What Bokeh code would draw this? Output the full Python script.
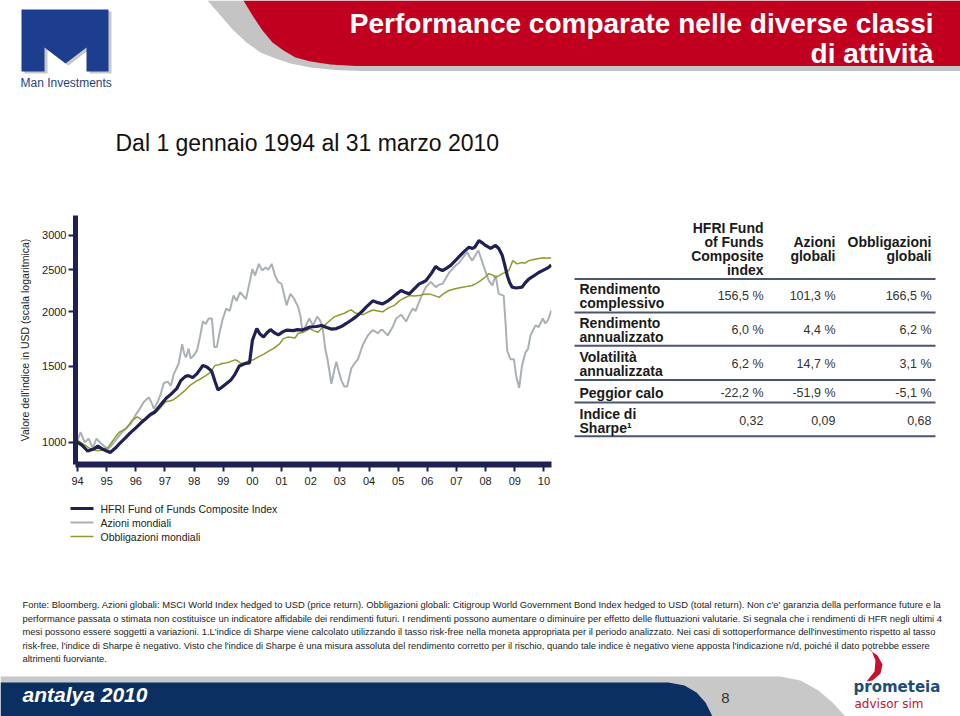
from bokeh.plotting import figure
from bokeh.models import Range1d, FixedTicker, PrintfTickFormatter
from bokeh.layouts import column, row
from bokeh.embed import file_html
from bokeh.resources import INLINE
from bokeh.core.properties import value

# ---------------- data ----------------
hfri_t = [1994.00, 1994.15, 1994.35, 1994.55, 1994.70, 1994.85, 1995.00, 1995.12, 1995.30, 1995.45,
          1995.65, 1995.80, 1996.00, 1996.15, 1996.35, 1996.50, 1996.65, 1996.85, 1997.05, 1997.20,
          1997.40, 1997.55, 1997.70, 1997.80, 1997.95, 1998.10, 1998.30, 1998.45, 1998.60, 1998.72,
          1998.82, 1998.95, 1999.10, 1999.25, 1999.40, 1999.55, 1999.75, 1999.90, 2000.00, 2000.15,
          2000.25, 2000.38, 2000.50, 2000.62, 2000.75, 2000.89, 2001.05, 2001.17, 2001.40, 2001.55,
          2001.70, 2001.85, 2001.97, 2002.20, 2002.37, 2002.55, 2002.70, 2002.88, 2003.05, 2003.22,
          2003.40, 2003.56, 2003.75, 2003.90, 2004.13, 2004.30, 2004.47, 2004.65, 2004.81, 2004.95,
          2005.10, 2005.25, 2005.38, 2005.55, 2005.72, 2005.85, 2005.95, 2006.15, 2006.29, 2006.40,
          2006.52, 2006.65, 2006.80, 2006.95, 2007.09, 2007.25, 2007.43, 2007.55, 2007.63, 2007.77,
          2007.90, 2008.00, 2008.17, 2008.34, 2008.45, 2008.57, 2008.66, 2008.74, 2008.82, 2008.91,
          2009.05, 2009.25, 2009.35, 2009.48, 2009.65, 2009.82, 2009.95, 2010.05, 2010.15, 2010.25]
hfri_v = [1000, 985, 955, 965, 980, 965, 955, 948, 970, 995,
          1025, 1050, 1080, 1105, 1135, 1160, 1175, 1220, 1265, 1290,
          1330, 1390, 1420, 1425, 1410, 1440, 1505, 1490, 1460, 1380,
          1320, 1340, 1365, 1390, 1435, 1500, 1520, 1525, 1720, 1830,
          1780, 1750, 1790, 1820, 1790, 1770, 1800, 1815, 1810, 1820,
          1815, 1830, 1845, 1850, 1860, 1840, 1825, 1830, 1850, 1880,
          1915, 1950, 2000, 2050, 2120, 2100, 2085, 2120, 2160, 2200,
          2240, 2215, 2200, 2260, 2320, 2340, 2360, 2460, 2545, 2510,
          2490, 2520, 2560, 2620, 2680, 2750, 2820, 2800, 2820, 2920,
          2880, 2845, 2800, 2845, 2800, 2700, 2560, 2430, 2340, 2280,
          2270, 2280, 2330, 2380, 2420, 2465, 2490, 2510, 2530, 2565]

stock_t = [1994.00, 1994.10, 1994.25, 1994.38, 1994.52, 1994.65, 1994.80, 1994.95, 1995.05, 1995.20,
           1995.35, 1995.50, 1995.65, 1995.83, 1996.00, 1996.10, 1996.28, 1996.45, 1996.55, 1996.62,
           1996.75, 1996.85, 1996.96, 1997.10, 1997.20, 1997.30, 1997.47, 1997.59, 1997.66, 1997.72,
           1997.81, 1997.88, 1998.00, 1998.10, 1998.20, 1998.30, 1998.40, 1998.50, 1998.61, 1998.69,
           1998.78, 1998.88, 1998.97, 1999.10, 1999.22, 1999.35, 1999.46, 1999.58, 1999.70, 1999.78,
           1999.88, 2000.00, 2000.09, 2000.22, 2000.34, 2000.45, 2000.55, 2000.66, 2000.78, 2000.88,
           2001.00, 2001.08, 2001.17, 2001.30, 2001.42, 2001.57, 2001.65, 2001.72, 2001.85, 2001.95,
           2002.08, 2002.22, 2002.30, 2002.40, 2002.50, 2002.58, 2002.71, 2002.80, 2002.88, 2002.97,
           2003.05, 2003.15, 2003.25, 2003.39, 2003.50, 2003.62, 2003.79, 2003.96, 2004.13, 2004.22,
           2004.30, 2004.40, 2004.47, 2004.64, 2004.81, 2004.93, 2005.10, 2005.27, 2005.40, 2005.50,
           2005.60, 2005.67, 2005.78, 2005.95, 2006.12, 2006.29, 2006.40, 2006.52, 2006.65, 2006.75,
           2006.88, 2006.98, 2007.10, 2007.20, 2007.37, 2007.45, 2007.54, 2007.65, 2007.75, 2007.85,
           2007.94, 2008.05, 2008.11, 2008.23, 2008.34, 2008.45, 2008.62, 2008.68, 2008.74, 2008.85,
           2008.97, 2009.05, 2009.15, 2009.25, 2009.37, 2009.45, 2009.54, 2009.71, 2009.82, 2009.96,
           2010.05, 2010.15, 2010.25]
stock_v = [1010, 1055, 1000, 1020, 970, 1020, 995, 975, 965, 990,
           1020, 1050, 1075, 1105, 1160, 1185, 1240, 1270, 1230, 1195,
           1240, 1290, 1370, 1380, 1350, 1435, 1520, 1685, 1600, 1570,
           1645, 1560, 1590, 1630, 1750, 1900, 1875, 1930, 1930, 1660,
           1660, 1800, 1915, 2035, 2010, 2180, 2120, 2220, 2170, 2140,
           2300, 2510, 2425, 2580, 2490, 2530, 2500, 2580, 2420, 2345,
           2320, 2200, 2070, 2200, 2150, 2050, 1950, 1790, 1870, 1930,
           1860, 1950, 1920, 1860, 1640, 1550, 1365, 1460, 1535, 1450,
           1390, 1345, 1345, 1480, 1520, 1555, 1680, 1765, 1815, 1800,
           1785, 1815, 1815, 1765, 1845, 1930, 1970, 1900, 1980, 2035,
           2010, 2070, 2160, 2280, 2345, 2280, 2310, 2320, 2400, 2465,
           2520, 2560, 2600, 2655, 2745, 2680, 2625, 2700, 2770, 2650,
           2540, 2420, 2360, 2300, 2430, 2200, 2180, 1900, 1630, 1555,
           1555, 1420, 1335, 1505, 1615, 1640, 1765, 1860, 1845, 1930,
           1880, 1920, 2013]

bond_t = [1994.00, 1994.20, 1994.46, 1994.65, 1994.80, 1995.03, 1995.15, 1995.26, 1995.43, 1995.55,
          1995.66, 1995.88, 1996.05, 1996.22, 1996.45, 1996.60, 1996.74, 1997.02, 1997.15, 1997.25,
          1997.40, 1997.53, 1997.70, 1997.87, 1998.05, 1998.21, 1998.40, 1998.55, 1998.72, 1998.85,
          1998.95, 1999.10, 1999.24, 1999.40, 1999.47, 1999.58, 1999.69, 1999.86, 2000.03, 2000.20,
          2000.38, 2000.60, 2000.72, 2000.94, 2001.06, 2001.23, 2001.46, 2001.57, 2001.69, 2001.85,
          2001.97, 2002.10, 2002.25, 2002.40, 2002.54, 2002.70, 2002.82, 2003.00, 2003.16, 2003.30,
          2003.39, 2003.50, 2003.56, 2003.79, 2003.95, 2004.13, 2004.30, 2004.47, 2004.65, 2004.87,
          2005.04, 2005.20, 2005.38, 2005.55, 2005.72, 2005.90, 2006.06, 2006.25, 2006.40, 2006.55,
          2006.74, 2006.95, 2007.20, 2007.40, 2007.54, 2007.70, 2007.83, 2008.00, 2008.11, 2008.25,
          2008.34, 2008.45, 2008.57, 2008.70, 2008.80, 2008.93, 2009.08, 2009.25, 2009.35, 2009.48,
          2009.65, 2009.82, 2010.00, 2010.10, 2010.25]
bond_v = [1010, 990, 965, 958, 958, 970, 995, 1020, 1055, 1065,
          1075, 1125, 1145, 1125, 1145, 1160, 1180, 1240, 1245, 1250,
          1270, 1290, 1320, 1355, 1380, 1400, 1425, 1450, 1505, 1510,
          1520, 1525, 1535, 1550, 1545, 1525, 1520, 1540, 1550, 1575,
          1595, 1630, 1645, 1690, 1735, 1750, 1740, 1785, 1790, 1810,
          1830, 1810, 1795, 1840, 1880, 1920, 1950, 1970, 1985, 2010,
          2020, 1995, 1985, 1970, 1995, 2020, 2010, 2000, 2040, 2070,
          2120, 2150, 2180, 2175, 2180, 2195, 2200, 2180, 2160, 2200,
          2240, 2260, 2280, 2290, 2300, 2330, 2360, 2410, 2450, 2430,
          2400, 2420, 2450, 2470, 2490, 2625, 2580, 2600, 2590, 2625,
          2640, 2655, 2665, 2660, 2665]

series_names = ["HFRI Fund of Funds Composite Index", "Azioni mondiali", "Obbligazioni mondiali"]
year_ticks = list(range(1994, 2011))
year_labels = ["94", "95", "96", "97", "98", "99", "00", "01", "02", "03",
               "04", "05", "06", "07", "08", "09", "10"]
value_ticks = [1000, 1500, 2000, 2500, 3000]

col_headers = [["HFRI Fund", "of Funds", "Composite", "index"],
               ["Azioni", "globali"],
               ["Obbligazioni", "globali"]]
row_labels = [["Rendimento", "complessivo"], ["Rendimento", "annualizzato"],
              ["Volatilità", "annualizzata"], ["Peggior calo"], ["Indice di", "Sharpe¹"]]
hfri_stats = ["156,5 %", "6,0 %", "6,2 %", "-22,2 %", "0,32"]
azioni_stats = ["101,3 %", "4,4 %", "14,7 %", "-51,9 %", "0,09"]
obblig_stats = ["166,5 %", "6,2 %", "3,1 %", "-5,1 %", "0,68"]

title_lines = ["Performance comparate nelle diverse classi", "di attività"]
subtitle = "Dal 1 gennaio 1994 al 31 marzo 2010"
y_label = "Valore dell'indice in USD (scala logaritmica)"
footnote_lines = [
    "Fonte: Bloomberg. Azioni globali: MSCI World Index hedged to USD (price return). Obbligazioni globali: Citigroup World Government Bond Index hedged to USD (total return). Non c'e' garanzia della performance future e la",
    "performance passata o stimata non costituisce un indicatore affidabile dei rendimenti futuri. I rendimenti possono aumentare o diminuire per effetto delle fluttuazioni valutarie. Si segnala che i rendimenti di HFR negli ultimi 4",
    "mesi possono essere soggetti a variazioni. 1.L'indice di Sharpe viene calcolato utilizzando il tasso risk-free nella moneta appropriata per il periodo analizzato. Nei casi di sottoperformance dell'investimento rispetto al tasso",
    "risk-free, l'indice di Sharpe è negativo. Visto che l'indice di Sharpe è una misura assoluta del rendimento corretto per il rischio, quando tale indice è negativo viene apposta l'indicazione n/d, poiché il dato potrebbe essere",
    "altrimenti fuorviante.",
]

# ---------------- styles ----------------
FONT = "Liberation Sans"
NAVY = "#1f2154"
GRAY = "#a9b1b5"
OLIVE = "#8e9b2c"
RED = "#c1001f"
LOGO_BLUE = "#1d3d8f"
BAND_NAVY = "#0c2f62"
TXT = "#1a1a1a"
series_colors = [NAVY, GRAY, OLIVE]
series_widths = [3.2, 2, 1.5]


def blank(w, h, xr, yr):
    f = figure(width=w, height=h, x_range=Range1d(*xr), y_range=Range1d(*yr),
               x_axis_location=None, y_axis_location=None, toolbar_location=None,
               output_backend="svg", min_border=0)
    f.grid.visible = False
    f.outline_line_color = None
    return f


# ---------------- header (page y 0..165) ----------------
hdr = blank(960, 165, (0, 960), (165, 0))
hdr.patch([207, 220, 233, 246, 260, 275, 290, 310, 335, 360, 960, 960],
          [0, 15, 30, 42, 52, 58, 63, 67, 69.5, 70.5, 70.5, 0],
          fill_color="#c4c4c4", line_color=None)
hdr.patch([243, 252, 262, 272, 283, 295, 310, 330, 355, 960, 960],
          [0, 15, 30, 42, 50, 57, 61, 64, 65.5, 65.5, 0],
          fill_color=RED, line_color=None)
mx = [21, 108, 108, 86, 86, 65, 44, 44, 21]
my = [9, 9, 71, 71, 47, 63, 47, 71, 71]
hdr.patch([v + 3 for v in mx], [v + 2 for v in my], fill_color="#c8c8c8", line_color=None)
hdr.patch(mx, my, fill_color=LOGO_BLUE, line_color=None)
hdr.text(x=[20], y=[82], text=["Man Investments"], text_font=value(FONT),
         text_font_size="12px", text_color="#2a3f7a", text_baseline="middle")
hdr.text(x=[933, 933], y=[23, 53], text=title_lines, text_align="right", text_baseline="middle",
         text_font=value(FONT), text_font_style="bold", text_font_size="28px", text_color="white")
hdr.text(x=[115], y=[142], text=[subtitle], text_baseline="middle", text_font=value(FONT),
         text_font_size="23px", text_color="#111111")

# ---------------- chart (page x 0..570, y 165..492) ----------------
p = figure(width=570, height=327, x_range=Range1d(1993.93, 2010.26), y_range=Range1d(889, 3336),
           y_axis_type="log", toolbar_location=None, output_backend="svg",
           min_border_left=75, min_border_right=19, min_border_top=50, min_border_bottom=28)
p.grid.visible = False
p.outline_line_color = None

p.line(stock_t, stock_v, line_color=GRAY, line_width=2)
p.line(bond_t, bond_v, line_color=OLIVE, line_width=1.5)
p.line(hfri_t, hfri_v, line_color=NAVY, line_width=3.2)

xa = p.xaxis[0]
xa.ticker = FixedTicker(ticks=year_ticks)
xa.major_label_overrides = {t: lab for t, lab in zip(year_ticks, year_labels)}
xa.axis_line_width = 6
xa.axis_line_color = NAVY
xa.major_tick_out = 7
xa.major_tick_in = 0
xa.major_tick_line_width = 2
xa.major_tick_line_color = NAVY
xa.minor_tick_line_color = None
xa.major_label_standoff = 5
xa.major_label_text_font = FONT
xa.major_label_text_font_size = "11px"
xa.major_label_text_color = "#222222"

ya = p.yaxis[0]
ya.ticker = FixedTicker(ticks=value_ticks)
ya.formatter = PrintfTickFormatter(format="%d")
ya.axis_line_width = 5
ya.axis_line_color = NAVY
ya.major_tick_out = 7
ya.major_tick_in = 0
ya.major_tick_line_width = 2
ya.major_tick_line_color = NAVY
ya.minor_tick_line_color = None
ya.major_label_standoff = 2
ya.major_label_text_font = FONT
ya.major_label_text_font_size = "11px"
ya.major_label_text_color = "#222222"
ya.axis_label = y_label
ya.axis_label_standoff = 8
ya.axis_label_text_font = FONT
ya.axis_label_text_font_size = "10.5px"
ya.axis_label_text_font_style = "normal"
ya.axis_label_text_color = "#222222"

# ---------------- table (page x 570..960, y 165..492) ----------------
tb = blank(390, 327, (570, 960), (492, 165))
col_right = [763, 835, 931]
head_mid = 209
line_gap = 18.4
for xr, lines in zip(col_right, col_headers):
    n = len(lines)
    ys = [head_mid + (i - (n - 1) / 2) * line_gap for i in range(n)]
    tb.text(x=[xr] * n, y=ys, text=lines, text_align="right", text_baseline="middle",
            text_font=value(FONT), text_font_style="bold", text_font_size="14px", text_color=TXT)

rule_y = [248.3, 292.3, 336, 381, 410.7, 455]
for ry in rule_y:
    tb.line([574, 935], [ry, ry], line_color="#4a5670", line_width=2)

row_mid = [270.8, 315.5, 360.2, 397.8, 434.8]
for ym, lines in zip(row_mid, row_labels):
    n = len(lines)
    ys = [ym + (i - (n - 1) / 2) * 18 for i in range(n)]
    tb.text(x=[579] * n, y=ys, text=lines, text_baseline="middle", text_font=value(FONT),
            text_font_style="bold", text_font_size="14px", text_color=TXT)

for xr, vals in zip(col_right, [hfri_stats, azioni_stats, obblig_stats]):
    tb.text(x=[xr] * len(vals), y=row_mid, text=vals, text_align="right", text_baseline="middle",
            text_font=value(FONT), text_font_size="12.5px", text_color="#333333")

# ---------------- footer (page y 492..716): key, footnote, banner ----------------
ft = blank(960, 224, (0, 960), (716, 492))
key_y = [508, 522, 536]
for ky, col, lw in zip(key_y, series_colors, series_widths):
    ft.line([70, 93], [ky, ky], line_color=col, line_width=lw)
ft.text(x=[100] * 3, y=key_y, text=series_names, text_baseline="middle", text_font=value(FONT),
        text_font_size="10.5px", text_color="#222222")

ft.text(x=[22] * len(footnote_lines), y=[604, 617.5, 631, 644.5, 658], text=footnote_lines,
        text_baseline="middle", text_font=value(FONT), text_font_size="9.4px", text_color="#222222")
ft.patch([0, 780, 800, 818, 832, 845, 0], [676, 676, 680, 690, 702, 716, 716],
         fill_color="#c8c8c8", line_color=None)
ft.patch([0, 668, 684, 696, 705, 712, 0], [682, 682, 685, 692, 702, 716, 716],
         fill_color=BAND_NAVY, line_color=None)
ft.text(x=[22], y=[694], text=["antalya 2010"], text_baseline="middle", text_font=value(FONT),
        text_font_style="bold italic", text_font_size="21px", text_color="white")
ft.text(x=[725], y=[697], text=["8"], text_align="center", text_baseline="middle",
        text_font=value(FONT), text_font_size="15px", text_color="#333333")
ft.patch([867, 877, 882, 880, 872, 866, 874, 875, 871],
         [648, 655, 664, 673, 680, 681, 671, 660, 650], fill_color="#c8102e", line_color=None)
ft.text(x=[853], y=[686], text=["prometeia"], text_baseline="middle", text_font=value("DejaVu Sans"),
        text_font_style="bold", text_font_size="15px", text_color="#1e4d78")
ft.text(x=[854], y=[703], text=["advisor sim"], text_baseline="middle", text_font=value("DejaVu Sans"),
        text_font_size="12px", text_color="#c8102e")

layout = column(hdr, row(p, tb), ft)
open("out.html", "w").write(file_html(layout, INLINE))
